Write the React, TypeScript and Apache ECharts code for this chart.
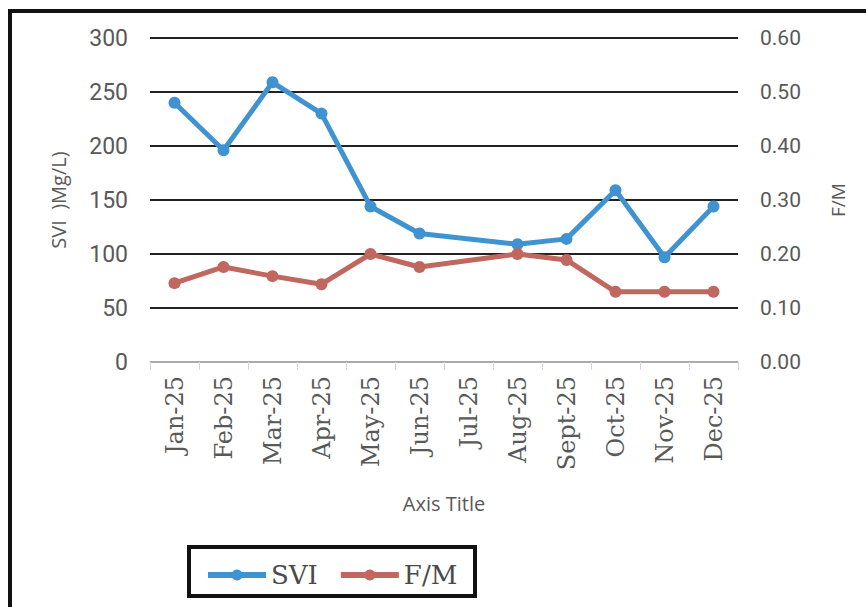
import React, { useEffect, useRef } from "react";
import * as echarts from "echarts";

const categories = ["Jan-25", "Feb-25", "Mar-25", "Apr-25", "May-25", "Jun-25", "Jul-25", "Aug-25", "Sept-25", "Oct-25", "Nov-25", "Dec-25"];
const svi = [240, 196, 259, 230, 144, 119, null, 109, 114, 159, 97, 144];
const fm = [0.146, 0.176, 0.159, 0.144, 0.2, 0.176, null, 0.2, 0.189, 0.13, 0.13, 0.13];

const BLUE = "#3f93d0";
const RED = "#c0675f";
const GREY = "#595959";
const SERIF = "DejaVu Serif, Liberation Serif, serif";
const SANS = "Open Sans, Noto Sans, sans-serif";
const NUM = "Roboto, sans-serif";

export default function App() {
  const ref = useRef<HTMLDivElement>(null);
  useEffect(() => {
    if (!ref.current) return;
    const chart = echarts.init(ref.current, undefined, { renderer: "svg" });
    chart.setOption({
      animation: false,
      backgroundColor: "#ffffff",
      grid: { left: 150, right: 128, top: 38, bottom: 245 },
      graphic: [
        { type: "rect", shape: { x: 10, y: 11, width: 880, height: 640 }, style: { fill: "none", stroke: "#111", lineWidth: 4 }, silent: true },
        { type: "rect", shape: { x: 189, y: 547, width: 286, height: 49 }, style: { fill: "none", stroke: "#111", lineWidth: 4 }, silent: true },
      ],
      legend: {
        left: 200,
        top: 556,
        itemWidth: 58,
        itemHeight: 14,
        itemGap: 20,
        lineStyle: { width: 6 },
        textStyle: { fontFamily: SERIF, fontSize: 26, lineHeight: 28, color: "#4a4a4a" },
        data: ["SVI", "F/M"],
      },
      xAxis: {
        type: "category",
        data: categories,
        boundaryGap: true,
        axisLine: { lineStyle: { color: "#d9d9d9", width: 1.5 } },
        axisTick: { show: true, length: 8, lineStyle: { color: "#d9d9d9" } },
        axisLabel: {
          rotate: 90,
          interval: 0,
          margin: 14,
          color: GREY,
          fontFamily: SERIF,
          fontSize: 24,
        },
        name: "Axis Title",
        nameLocation: "middle",
        nameGap: 131,
        nameTextStyle: { color: GREY, fontSize: 20, fontFamily: SANS },
      },
      yAxis: [
        {
          type: "value",
          min: 0,
          max: 300,
          interval: 50,
          axisLine: { show: false },
          axisTick: { show: false },
          splitLine: { lineStyle: { color: "#222", width: 2 } },
          axisLabel: { color: GREY, fontSize: 23, margin: 22, fontFamily: NUM },
          name: "SVI  )Mg/L)",
          nameLocation: "middle",
          nameGap: 82,
          nameRotate: 90,
          nameTextStyle: { color: GREY, fontSize: 20, fontFamily: SANS },
        },
        {
          type: "value",
          min: 0,
          max: 0.6,
          interval: 0.1,
          position: "right",
          axisLine: { show: false },
          axisTick: { show: false },
          splitLine: { show: false },
          axisLabel: { color: GREY, fontSize: 21, margin: 22, formatter: (v: number) => v.toFixed(2), fontFamily: NUM },
          name: "F/M",
          nameLocation: "middle",
          nameGap: 90,
          nameRotate: 90,
          nameTextStyle: { color: GREY, fontSize: 19, fontFamily: SANS },
        },
      ],
      series: [
        {
          name: "SVI",
          type: "line",
          data: svi,
          yAxisIndex: 0,
          connectNulls: true,
          symbol: "circle",
          symbolSize: 12,
          lineStyle: { color: BLUE, width: 5 },
          itemStyle: { color: BLUE },
        },
        {
          name: "F/M",
          type: "line",
          data: fm,
          yAxisIndex: 1,
          connectNulls: true,
          symbol: "circle",
          symbolSize: 12,
          lineStyle: { color: RED, width: 5 },
          itemStyle: { color: RED },
        },
      ],
    });
    return () => chart.dispose();
  }, []);
  return <div ref={ref} style={{ position: "absolute", left: 0, top: 0, width: 866, height: 607 }} />;
}
